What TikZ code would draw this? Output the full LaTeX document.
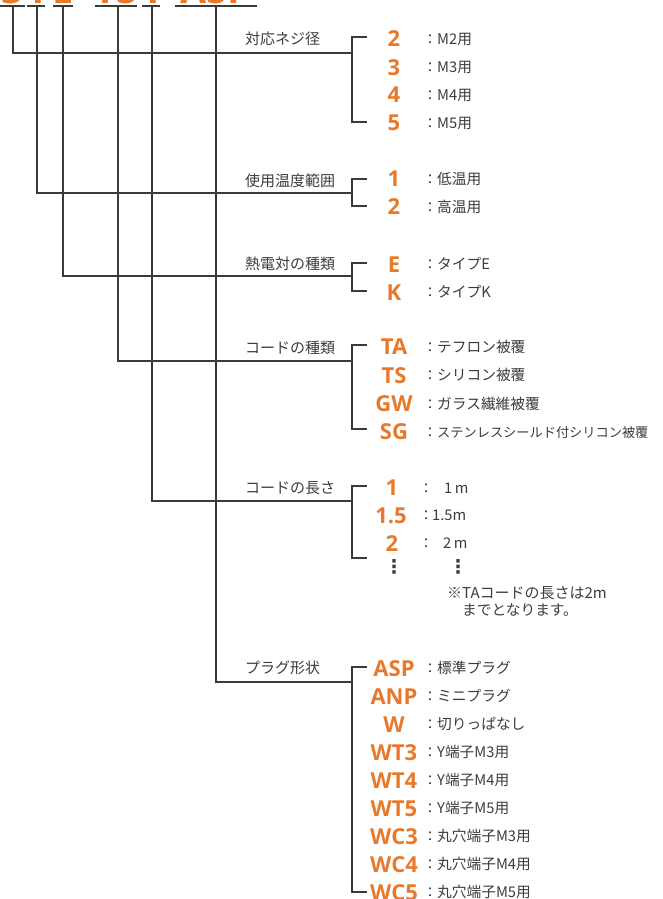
\documentclass[tikz,border=0pt]{standalone}
\usepackage{fontspec}
\setmainfont{Open Sans}
\newfontfamily\jpf{Noto Sans CJK JP}
\newfontfamily\codef{Open Sans}
\newfontfamily\symf{DejaVu Sans}
\definecolor{org}{HTML}{E8792B}
\definecolor{ln}{HTML}{3A3A3A}
\definecolor{tx}{HTML}{3C3C3C}
\begin{document}
\begin{tikzpicture}[x=1pt,y=-1pt,
 line/.style={draw=ln,line width=1.25pt},
 code/.style={text=org,font=\codef\bfseries\fontsize{22}{22}\selectfont,anchor=base,inner sep=0pt},
 desc/.style={text=tx,font=\jpf\fontsize{14.7}{14.7}\selectfont,anchor=base west,inner sep=0pt},
 grp/.style={text=tx,font=\jpf\fontsize{15}{15}\selectfont,anchor=base west,inner sep=0pt},
 colon/.style={text=tx,font=\jpf\fontsize{14}{14}\selectfont,anchor=base,inner sep=0pt},
 dots/.style={text=tx,font=\symf\bfseries\fontsize{19}{19}\selectfont,anchor=center,inner sep=0pt},
 toptxt/.style={text=org,font=\codef\bfseries\fontsize{38}{38}\selectfont,anchor=base,inner sep=0pt}]
\useasboundingbox (0,0) rectangle (662,899);

% top code (cut off by the frame)
\node[toptxt] (c1) at (12.5,3.5) {3};
\node[toptxt] (c2) at (36,3.5) {1};
\node[toptxt] (c3) at (63,3.5) {E};
\node[toptxt] (c4) at (116,3.5) {TS};
\node[toptxt] (c5) at (151,3.5) {1};
\node[toptxt] (c6) at (216,3.5) {ASP};

% underlines
\coordinate (u1l) at (0,6);   \coordinate (u1r) at (25,6);
\coordinate (u2l) at (27,6);  \coordinate (u2r) at (45,6);
\coordinate (u3l) at (53,6);  \coordinate (u3r) at (73,6);
\coordinate (u4l) at (95,6);  \coordinate (u4r) at (137,6);
\coordinate (u5l) at (142,6); \coordinate (u5r) at (160,6);
\coordinate (u6l) at (175,6); \coordinate (u6r) at (257,6);
\foreach \i in {1,...,6} {\draw[line] (u\i l) -- (u\i r);}

% trunk tops
\coordinate (t1) at (13,6);
\coordinate (t2) at (37,6);
\coordinate (t3) at (63,6);
\coordinate (t4) at (118,6);
\coordinate (t5) at (152,6);
\coordinate (t6) at (216,6);

% branch points
\coordinate (b1) at (352,53);
\coordinate (b2) at (352,193);
\coordinate (b3) at (352,276);
\coordinate (b4) at (352,361);
\coordinate (b5) at (352,501);
\coordinate (b6) at (352,682);

% bracket ends
\coordinate (bt1) at (367,37);  \coordinate (bb1) at (367,122);
\coordinate (bt2) at (367,179); \coordinate (bb2) at (367,206);
\coordinate (bt3) at (367,263); \coordinate (bb3) at (367,291);
\coordinate (bt4) at (367,345); \coordinate (bb4) at (367,429);
\coordinate (bt5) at (367,486); \coordinate (bb5) at (367,558);
\coordinate (bt6) at (367,667); \coordinate (bb6) at (367,892);

\foreach \i in {1,...,6} {
  \draw[line] (t\i) |- (b\i);
  \draw[line] (bt\i) -| (b\i) |- (bb\i);
}

% group labels
\node[grp] (L1) at (245,44.7) {対応ネジ径};
\node[grp] (L2) at (245,186.7) {使用温度範囲};
\node[grp] (L3) at (245,269.2) {熱電対の種類};
\node[grp] (L4) at (245,353.7) {コードの種類};
\node[grp] (L5) at (245,493.7) {コードの長さ};
\node[grp] (L6) at (245,673.7) {プラグ形状};

% group 1
\node[code] (g1a) at (394,47) {2};   \node[colon] (g1ac) at (430,44.5) {：}; \node[desc] (g1ad) at (437,44.5) {M2用};
\node[code] (g1b) at (394,75) {3};   \node[colon] (g1bc) at (430,72.5) {：}; \node[desc] (g1bd) at (437,72.5) {M3用};
\node[code] (g1c) at (394,102.5) {4};  \node[colon] (g1cc) at (430,100) {：};  \node[desc] (g1cd) at (437,100) {M4用};
\node[code] (g1d) at (394,130.5) {5};  \node[colon] (g1dc) at (430,128) {：};  \node[desc] (g1dd) at (437,128) {M5用};

% group 2
\node[code] (g2a) at (394,186.5) {1};    \node[colon] (g2ac) at (430,184) {：};  \node[desc] (g2ad) at (437,184) {低温用};
\node[code] (g2b) at (394,214.5) {2};    \node[colon] (g2bc) at (430,212) {：};  \node[desc] (g2bd) at (437,212) {高温用};

% group 3
\node[code] (g3a) at (394,272) {E};  \node[colon] (g3ac) at (430,269.5) {：}; \node[desc] (g3ad) at (437,269.5) {タイプE};
\node[code] (g3b) at (394,300) {K};  \node[colon] (g3bc) at (430,297.5) {：}; \node[desc] (g3bd) at (437,297.5) {タイプK};

% group 4
\node[code] (g4a) at (394,354.5) {TA};   \node[colon] (g4ac) at (430,352) {：};  \node[desc] (g4ad) at (437,352) {テフロン被覆};
\node[code] (g4b) at (394,383) {TS}; \node[colon] (g4bc) at (430,380.5) {：}; \node[desc] (g4bd) at (437,380.5) {シリコン被覆};
\node[code] (g4c) at (394,411.5) {GW};   \node[colon] (g4cc) at (430,409) {：};  \node[desc] (g4cd) at (437,409) {ガラス繊維被覆};
\node[code] (g4d) at (394,439.5) {SG};   \node[colon] (g4dc) at (430,437) {：};
\node[desc,font=\jpf\fontsize{13.2}{13.2}\selectfont] (g4dd) at (437,437) {ステンレスシールド付シリコン被覆};

% group 5
\node[code] (g5a) at (392,495.5) {1};    \node[colon] (g5ac) at (426,493) {：};  \node[desc] (g5ad) at (444,493) {1\,m};
\node[code] (g5b) at (391,523) {1.5};\node[colon] (g5bc) at (426,520.5) {：};\node[desc] (g5bd) at (432,520.5) {1.5m};
\node[code] (g5c) at (392,551) {2};  \node[colon] (g5cc) at (426,548.5) {：};\node[desc] (g5cd) at (443,548.5) {2\,m};
\node[dots] (g5dx) at (394,566.5) {⋮};
\node[dots] (g5dy) at (458,566.5) {⋮};
\node[desc,font=\jpf\fontsize{15}{15}\selectfont] (note1) at (447,598.5) {※TAコードの長さは2m};
\node[desc] (note2) at (462,615) {までとなります。};

% group 6
\node[code] (g6a) at (394,676) {ASP}; \node[colon] (g6ac) at (430,673.5) {：}; \node[desc] (g6ad) at (437,673.5) {標準プラグ};
\node[code] (g6b) at (394,704) {ANP}; \node[colon] (g6bc) at (430,701.5) {：}; \node[desc] (g6bd) at (437,701.5) {ミニプラグ};
\node[code] (g6c) at (394,732) {W};   \node[colon] (g6cc) at (430,729.5) {：}; \node[desc] (g6cd) at (437,729.5) {切りっぱなし};
\node[code] (g6d) at (394,760) {WT3}; \node[colon] (g6dc) at (430,757.5) {：}; \node[desc] (g6dd) at (437,757.5) {Y端子M3用};
\node[code] (g6e) at (394,788) {WT4}; \node[colon] (g6ec) at (430,785.5) {：}; \node[desc] (g6ed) at (437,785.5) {Y端子M4用};
\node[code] (g6f) at (394,816) {WT5}; \node[colon] (g6fc) at (430,813.5) {：}; \node[desc] (g6fd) at (437,813.5) {Y端子M5用};
\node[code] (g6g) at (394,844) {WC3}; \node[colon] (g6gc) at (430,841.5) {：}; \node[desc] (g6gd) at (437,841.5) {丸穴端子M3用};
\node[code] (g6h) at (394,872) {WC4}; \node[colon] (g6hc) at (430,869.5) {：}; \node[desc] (g6hd) at (437,869.5) {丸穴端子M4用};
\node[code] (g6i) at (394,900) {WC5}; \node[colon] (g6ic) at (430,897.5) {：}; \node[desc] (g6id) at (437,897.5) {丸穴端子M5用};
\end{tikzpicture}
\end{document}
